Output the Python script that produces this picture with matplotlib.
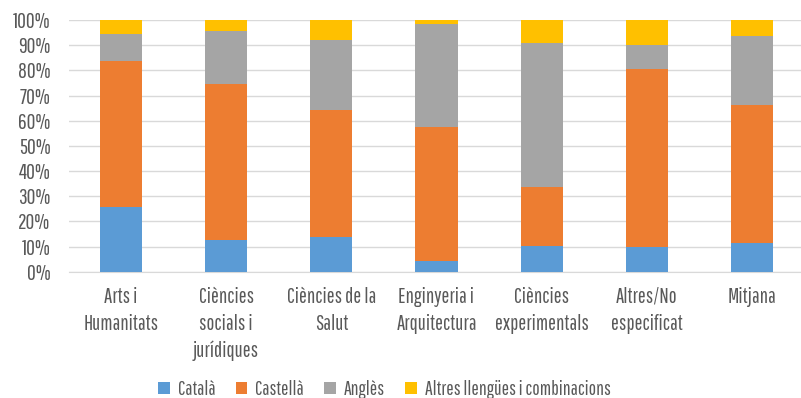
import matplotlib.pyplot as plt
import numpy as np
from matplotlib.ticker import PercentFormatter

"""
Data (read off the reference, cumulative tops converted to shares)
"""
categories = ['Arts i\nHumanitats', 'Ciències\nsocials i\njurídiques', 'Ciències de la\nSalut',
              'Enginyeria i\nArquitectura', 'Ciències\nexperimentals', 'Altres/No\nespecificat', 'Mitjana']
catala = [25.6, 12.5, 13.6, 4.2, 10.3, 9.9, 11.4]
castella = [58.0, 61.9, 50.7, 53.2, 23.3, 70.8, 54.7]
angles = [11.0, 21.1, 27.6, 40.9, 57.2, 9.3, 27.7]
altres = [5.4, 4.5, 8.1, 1.7, 9.2, 10.0, 6.2]

series_names = ['Català', 'Castellà', 'Anglès', 'Altres llengües i combinacions']
colors = ['#5B9BD5', '#ED7D31', '#A5A5A5', '#FFC000']

# narrow font close to the original condensed face
plt.rcParams['font.family'] = ['Pathway Gothic One', 'Barlow Condensed', 'DejaVu Sans']
text_color = '#595959'

fig = plt.figure(figsize=(8.01, 3.98), dpi=100)
ax = fig.add_axes([68.5 / 801, 0.3173, 736 / 801, 0.6324])

x = np.arange(len(categories))
bottom = np.zeros(len(categories))
for vals, name, col in zip([catala, castella, angles, altres], series_names, colors):
    ax.bar(x, vals, bottom=bottom, width=0.4, color=col, label=name, zorder=3)
    bottom += np.array(vals)

ax.set_xlim(-0.5, len(categories) - 0.5)
ax.set_ylim(0, 100)
ax.set_yticks(np.arange(0, 101, 10))
ax.yaxis.set_major_formatter(PercentFormatter(decimals=0))
ax.grid(axis='y', color='#D9D9D9', linewidth=1, zorder=0)
for s in ['top', 'right', 'left']:
    ax.spines[s].set_visible(False)
ax.spines['bottom'].set_color('#D9D9D9')
ax.tick_params(axis='both', length=0, colors=text_color)
ax.tick_params(axis='y', pad=13, labelsize=15.5)
ax.tick_params(axis='x', pad=11, labelsize=15)
ax.set_xticks(x)
ax.set_xticklabels(categories, linespacing=1.42)

fig.legend(loc='center', bbox_to_anchor=(0.48, 0.021), ncol=4, frameon=False,
           fontsize=14, labelcolor=text_color, handlelength=0.6, handleheight=0.6,
           handletextpad=0.4, columnspacing=1.05)

fig.savefig('out.png', dpi=100)
